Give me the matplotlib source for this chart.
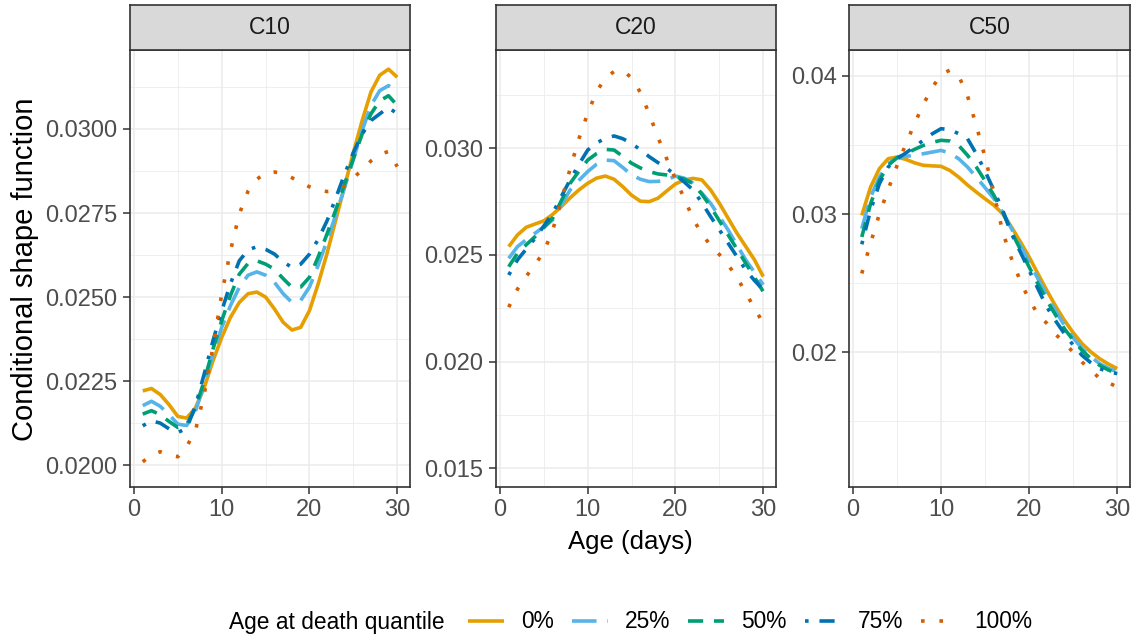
import matplotlib
matplotlib.use("Agg")
import matplotlib.pyplot as plt
from matplotlib.ticker import FixedLocator, FormatStrFormatter

plt.rcParams["font.family"] = ["Liberation Sans", "DejaVu Sans"]

# ---- data ----
AGE = list(range(1, 31))
QUANTILES = ["0%", "25%", "50%", "75%", "100%"]

C10_Q0 = [0.02221, 0.02228, 0.02210, 0.02180, 0.02145, 0.02140, 0.02170, 0.02230, 0.02310, 0.02380,
          0.02440, 0.02484, 0.02510, 0.02515, 0.02500, 0.02465, 0.02425, 0.02402, 0.02410, 0.02460,
          0.02540, 0.02630, 0.02730, 0.02830, 0.02930, 0.03025, 0.03110, 0.03160, 0.03178, 0.03154]
C10_Q25 = [0.02177, 0.02190, 0.02175, 0.02150, 0.02122, 0.02118, 0.02160, 0.02240, 0.02330, 0.02410,
           0.02475, 0.02529, 0.02565, 0.02575, 0.02565, 0.02544, 0.02510, 0.02484, 0.02490, 0.02530,
           0.02595, 0.02668, 0.02745, 0.02826, 0.02910, 0.02995, 0.03070, 0.03114, 0.03129, 0.03114]
C10_Q50 = [0.02152, 0.02162, 0.02150, 0.02130, 0.02112, 0.02120, 0.02170, 0.02250, 0.02345, 0.02430,
           0.02505, 0.02568, 0.02600, 0.02608, 0.02598, 0.02583, 0.02555, 0.02529, 0.02530, 0.02559,
           0.02620, 0.02688, 0.02760, 0.02836, 0.02912, 0.02985, 0.03045, 0.03084, 0.03099, 0.03070]
C10_Q75 = [0.02117, 0.02132, 0.02125, 0.02108, 0.02097, 0.02110, 0.02175, 0.02271, 0.02370, 0.02459,
           0.02540, 0.02608, 0.02640, 0.02650, 0.02642, 0.02628, 0.02605, 0.02588, 0.02598, 0.02628,
           0.02672, 0.02727, 0.02795, 0.02866, 0.02930, 0.02985, 0.03025, 0.03045, 0.03064, 0.03045]
C10_Q100 = [0.02010, 0.02030, 0.02040, 0.02030, 0.02025, 0.02055, 0.02102, 0.02211, 0.02350, 0.02509,
            0.02638, 0.02747, 0.02815, 0.02850, 0.02871, 0.02872, 0.02868, 0.02855, 0.02841, 0.02828,
            0.02818, 0.02814, 0.02816, 0.02830, 0.02855, 0.02878, 0.02905, 0.02925, 0.02933, 0.02888]

C20_Q0 = [0.02539, 0.02594, 0.02630, 0.02645, 0.02660, 0.02690, 0.02727, 0.02768, 0.02805, 0.02836,
          0.02860, 0.02870, 0.02855, 0.02820, 0.02780, 0.02752, 0.02750, 0.02766, 0.02800, 0.02833,
          0.02852, 0.02859, 0.02852, 0.02805, 0.02742, 0.02672, 0.02602, 0.02540, 0.02477, 0.02398]
C20_Q25 = [0.02484, 0.02539, 0.02572, 0.02602, 0.02632, 0.02664, 0.02735, 0.02805, 0.02850, 0.02891,
           0.02925, 0.02945, 0.02942, 0.02910, 0.02875, 0.02855, 0.02844, 0.02845, 0.02852, 0.02870,
           0.02860, 0.02836, 0.02790, 0.02742, 0.02680, 0.02617, 0.02547, 0.02477, 0.02418, 0.02360]
C20_Q50 = [0.02445, 0.02508, 0.02548, 0.02586, 0.02628, 0.02672, 0.02755, 0.02836, 0.02893, 0.02945,
           0.02975, 0.02995, 0.02992, 0.02962, 0.02930, 0.02908, 0.02891, 0.02880, 0.02875, 0.02867,
           0.02855, 0.02836, 0.02785, 0.02727, 0.02660, 0.02594, 0.02528, 0.02461, 0.02395, 0.02328]
C20_Q75 = [0.02406, 0.02477, 0.02528, 0.02578, 0.02636, 0.02695, 0.02775, 0.02852, 0.02925, 0.02992,
           0.03025, 0.03047, 0.03058, 0.03045, 0.03023, 0.02993, 0.02961, 0.02933, 0.02906, 0.02875,
           0.02842, 0.02805, 0.02745, 0.02680, 0.02618, 0.02555, 0.02492, 0.02430, 0.02380, 0.02336]
C20_Q100 = [0.02255, 0.02340, 0.02400, 0.02455, 0.02515, 0.02615, 0.02755, 0.02905, 0.03045, 0.03165,
            0.03265, 0.03330, 0.03360, 0.03365, 0.03330, 0.03262, 0.03162, 0.03052, 0.02951, 0.02855,
            0.02765, 0.02670, 0.02598, 0.02545, 0.02502, 0.02453, 0.02395, 0.02323, 0.02250, 0.02180]

C50_Q0 = [0.02990, 0.03195, 0.03328, 0.03400, 0.03412, 0.03395, 0.03370, 0.03352, 0.03348, 0.03345,
          0.03315, 0.03267, 0.03210, 0.03159, 0.03110, 0.03063, 0.03002, 0.02906, 0.02800, 0.02689,
          0.02568, 0.02448, 0.02335, 0.02231, 0.02142, 0.02063, 0.02003, 0.01954, 0.01915, 0.01882]
C50_Q25 = [0.02894, 0.03123, 0.03267, 0.03364, 0.03407, 0.03417, 0.03425, 0.03436, 0.03448, 0.03460,
           0.03440, 0.03400, 0.03340, 0.03267, 0.03190, 0.03111, 0.03014, 0.02894, 0.02773, 0.02653,
           0.02532, 0.02412, 0.02300, 0.02195, 0.02105, 0.02027, 0.01968, 0.01918, 0.01885, 0.01858]
C50_Q50 = [0.02834, 0.03075, 0.03243, 0.03352, 0.03407, 0.03436, 0.03468, 0.03496, 0.03518, 0.03533,
           0.03528, 0.03496, 0.03425, 0.03340, 0.03240, 0.03135, 0.03014, 0.02870, 0.02745, 0.02617,
           0.02495, 0.02376, 0.02270, 0.02171, 0.02088, 0.02014, 0.01955, 0.01906, 0.01872, 0.01846]
C50_Q75 = [0.02781, 0.03027, 0.03219, 0.03340, 0.03400, 0.03441, 0.03488, 0.03533, 0.03580, 0.03617,
           0.03610, 0.03581, 0.03545, 0.03436, 0.03310, 0.03171, 0.03027, 0.02858, 0.02725, 0.02593,
           0.02460, 0.02328, 0.02228, 0.02135, 0.02052, 0.01978, 0.01925, 0.01882, 0.01860, 0.01846]
C50_Q100 = [0.02570, 0.02790, 0.03000, 0.03178, 0.03350, 0.03505, 0.03655, 0.03795, 0.03913, 0.04010,
            0.04040, 0.04000, 0.03855, 0.03640, 0.03410, 0.03150, 0.02870, 0.02677, 0.02515, 0.02380,
            0.02275, 0.02210, 0.02130, 0.02070, 0.02000, 0.01930, 0.01870, 0.01812, 0.01780, 0.01750]

PANELS = {
    "C10": [C10_Q0, C10_Q25, C10_Q50, C10_Q75, C10_Q100],
    "C20": [C20_Q0, C20_Q25, C20_Q50, C20_Q75, C20_Q100],
    "C50": [C50_Q0, C50_Q25, C50_Q50, C50_Q75, C50_Q100],
}
C10_YTICKS = [0.0200, 0.0225, 0.0250, 0.0275, 0.0300]
C20_YTICKS = [0.015, 0.020, 0.025, 0.030]
C50_YTICKS = [0.02, 0.03, 0.04]
XTICKS = [0, 10, 20, 30]

# ---- styling ----
COLORS = ["#E69F00", "#56B4E9", "#009E73", "#0072B2", "#D55E00"]
DASHES = [None, (6.8, 3), (4.2, 3), (1, 3, 4.2, 3), (1, 4.1)]
LW = 2.6
GRAY20, GRAY30, GRID = "#333333", "#4D4D4D", "#EBEBEB"

W, H = 1136, 639
fig = plt.figure(figsize=(W / 100, H / 100), dpi=100)

# panel pixel boxes: (left, right), shared top/bottom
panel_x = [(130, 410), (496, 776), (849, 1130)]
top_px, bot_px, strip_top = 50, 487, 5
ylims = [(0.01935, 0.03235), (0.01412, 0.03461), (0.01026, 0.04186)]
yticks = [C10_YTICKS, C20_YTICKS, C50_YTICKS]
yfmts = ["%.4f", "%.3f", "%.2f"]


def minor_between(ticks, lo, hi):
    step = ticks[1] - ticks[0]
    out = []
    t = ticks[0] - step / 2
    while t < hi:
        if t > lo:
            out.append(t)
        t += step
    return out


handles = []
for i, (name, series) in enumerate(PANELS.items()):
    x0, x1 = panel_x[i]
    ax = fig.add_axes([x0 / W, (H - bot_px) / H, (x1 - x0) / W, (bot_px - top_px) / H])
    for j, ys in enumerate(series):
        ln, = ax.plot(AGE, ys, color=COLORS[j], lw=LW, solid_capstyle="butt",
                      dash_capstyle="butt", label=QUANTILES[j], zorder=3)
        if DASHES[j] is not None:
            ln.set_dashes(DASHES[j])
        if i == 0:
            handles.append(ln)
    ax.set_xlim(-0.45, 31.45)
    ax.set_ylim(*ylims[i])
    ax.xaxis.set_major_locator(FixedLocator(XTICKS))
    ax.xaxis.set_minor_locator(FixedLocator([5, 15, 25]))
    ax.yaxis.set_major_locator(FixedLocator(yticks[i]))
    ax.yaxis.set_minor_locator(FixedLocator(minor_between(yticks[i], *ylims[i])))
    ax.yaxis.set_major_formatter(FormatStrFormatter(yfmts[i]))
    ax.grid(which="major", color=GRID, lw=1.1, zorder=0)
    ax.grid(which="minor", color=GRID, lw=0.55, zorder=0)
    ax.set_axisbelow(True)
    ax.tick_params(which="major", length=5, width=1.1, color=GRAY20,
                   labelsize=17, labelcolor=GRAY30, pad=4)
    ax.tick_params(which="minor", length=0)
    for sp in ax.spines.values():
        sp.set_color(GRAY20)
        sp.set_linewidth(1.2)
        sp.set_zorder(5)

    # facet strip
    sax = fig.add_axes([x0 / W, (H - top_px) / H, (x1 - x0) / W, (top_px - strip_top) / H])
    sax.set_facecolor("#D9D9D9")
    sax.set_xticks([])
    sax.set_yticks([])
    for sp in sax.spines.values():
        sp.set_color(GRAY20)
        sp.set_linewidth(1.2)
    sax.text(0.5, 0.5, name, ha="center", va="center", fontsize=16.5,
             color="#1A1A1A", transform=sax.transAxes)

fig.text(25 / W, 1 - 269 / H, "Conditional shape function", rotation=90,
         ha="center", va="center", fontsize=21)
fig.text(630 / W, 1 - 542 / H, "Age (days)", ha="center", va="center", fontsize=18.5)

fs = 16.4
em = fs * 100 / 72
fig.text(229 / W, 1 - 622 / H, "Age at death quantile", ha="left", va="center", fontsize=fs)
fig.legend(handles, QUANTILES, ncol=5, loc="center left",
           bbox_to_anchor=(468 / W, 1 - 622 / H), frameon=False, fontsize=fs,
           handlelength=36 / em, handletextpad=17 / em, columnspacing=18 / em,
           borderpad=0, borderaxespad=0)

fig.savefig("out.png", dpi=100)
